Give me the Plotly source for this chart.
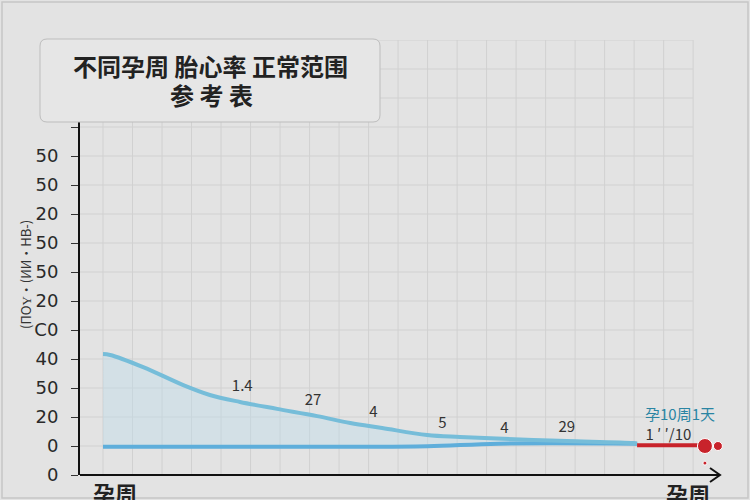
import plotly.graph_objects as go

# data (x = gestational week, y = tick index)
weeks_upper = [0, 0.12, 0.68, 1.36, 1.81, 2.32, 2.95, 3.63, 4.19, 4.73, 5.49, 6.05, 7.29, 7.86, 8.98, 9.05]
upper_vals = [4.17, 4.14, 3.72, 3.10, 2.76, 2.52, 2.28, 2.03, 1.79, 1.62, 1.38, 1.31, 1.21, 1.17, 1.10, 1.08]
weeks_lower = [0, 4.0, 5.5, 6.7, 9.05]
lower_vals = [0.97, 0.97, 0.99, 1.08, 1.08]
red_weeks = [9.05, 10.2]
red_vals = [1.03, 1.03]
dot_weeks = [10.2, 10.42, 10.2]
dot_vals = [1.0, 1.0, 0.41]

label_weeks = [2.36, 3.56, 4.58, 5.75, 6.8, 7.86, 9.58]
label_vals = [3.03, 2.55, 2.14, 1.76, 1.59, 1.62, 1.33]
label_text = ["1.4", "27", "4", "5", "4", "29", "1 ′ ′/10"]

tick_vals = list(range(16))
tick_text = ["0", "0", "20", "50", "40", "C0", "20", "50", "50", "20", "50", "50", "", "", "", ""]
grid_weeks = [w / 2 for w in range(0, 21)]

W, H = 750, 500
L, R, T, B = 80, 25, 40, 25
PW, PH = W - L - R, H - T - B
BG = "#e3e3e3"
GRID = "#d1d1d1"


def px(x):
    return (x - L) / PW


def py(y):
    return (H - B - y) / PH


FONT = "Noto Sans CJK SC"

fig = go.Figure()

fig.add_trace(go.Scatter(x=weeks_lower, y=lower_vals, mode="lines",
                         line=dict(color="#5eaedb", width=4, shape="spline"),
                         hoverinfo="skip"))
fig.add_trace(go.Scatter(x=weeks_upper, y=upper_vals, mode="lines",
                         line=dict(color="#76bdd9", width=4, shape="spline"),
                         fill="tonexty", fillcolor="rgba(190,220,232,0.45)",
                         hoverinfo="skip"))
fig.add_trace(go.Scatter(x=red_weeks, y=red_vals, mode="lines",
                         line=dict(color="#c8232b", width=4),
                         hoverinfo="skip"))
fig.add_trace(go.Scatter(x=dot_weeks, y=dot_vals, mode="markers",
                         marker=dict(color="#c8232b", size=[15, 9, 4], opacity=1),
                         cliponaxis=False, hoverinfo="skip"))
fig.add_trace(go.Scatter(x=label_weeks, y=label_vals, mode="text", text=label_text,
                         textfont=dict(family=FONT, size=15, color="#333333"),
                         cliponaxis=False, hoverinfo="skip"))

fig.add_annotation(x=9.78, y=2.12, text="孕10周1天", showarrow=False,
                   font=dict(family=FONT, size=15, color="#2a85a3"))


def rounded(x0, y0, x1, y1, r):
    # pixel box -> paper path with rounded corners
    pts = [
        f"M {px(x0 + r)},{py(y0)}",
        f"L {px(x1 - r)},{py(y0)}",
        f"Q {px(x1)},{py(y0)} {px(x1)},{py(y0 + r)}",
        f"L {px(x1)},{py(y1 - r)}",
        f"Q {px(x1)},{py(y1)} {px(x1 - r)},{py(y1)}",
        f"L {px(x0 + r)},{py(y1)}",
        f"Q {px(x0)},{py(y1)} {px(x0)},{py(y1 - r)}",
        f"L {px(x0)},{py(y0 + r)}",
        f"Q {px(x0)},{py(y0)} {px(x0 + r)},{py(y0)}",
        "Z",
    ]
    return " ".join(pts)


shapes = [
    # outer frame
    dict(type="rect", xref="paper", yref="paper", x0=px(2), x1=px(748), y0=py(498), y1=py(2),
         line=dict(color="#c6c6c6", width=1.5), layer="below"),
]
# grid that stops at the last column (x = 10 weeks)
for v in tick_vals[1:]:
    shapes.append(dict(type="line", xref="paper", yref="y", x0=0, x1=px(693), y0=v, y1=v,
                       line=dict(color=GRID, width=1), layer="below"))
for w in grid_weeks:
    shapes.append(dict(type="line", xref="x", yref="paper", x0=w, x1=w, y0=0, y1=1,
                       line=dict(color=GRID, width=1), layer="below"))
shapes += [
    # x axis with arrow
    dict(type="line", xref="paper", yref="paper", x0=0, x1=px(720), y0=0, y1=0,
         line=dict(color="#111111", width=2)),
    dict(type="path", xref="paper", yref="paper",
         path=f"M {px(710)},{py(468)} L {px(720)},{py(475)} L {px(710)},{py(482)}",
         line=dict(color="#111111", width=2)),
    # title box
    dict(type="path", xref="paper", yref="paper", path=rounded(40, 39, 380, 122, 7),
         fillcolor="#e6e6e6", line=dict(color="#bdbdbd", width=1), layer="above"),
]

annotations = [
    dict(xref="paper", yref="paper", x=px(210), y=py(66), text="<b>不同孕周 胎心率 正常范围</b>",
         xanchor="center", yanchor="middle",
         showarrow=False, font=dict(family=FONT, size=24, color="#222222")),
    dict(xref="paper", yref="paper", x=px(211), y=py(95), text="<b>参 考 表</b>",
         xanchor="center", yanchor="middle",
         showarrow=False, font=dict(family=FONT, size=24, color="#222222")),
    dict(xref="paper", yref="paper", x=px(25), y=py(275), text="(ПОҮ·(ИИ·НВ-)",
         xanchor="center", yanchor="middle",
         textangle=-90, showarrow=False, font=dict(family=FONT, size=13, color="#333333")),
    dict(xref="paper", yref="paper", x=px(115), y=py(492), text="<b>孕周</b>",
         xanchor="center", yanchor="middle",
         showarrow=False, font=dict(family=FONT, size=22, color="#222222")),
    dict(xref="paper", yref="paper", x=px(688), y=py(493), text="<b>孕周</b>",
         xanchor="center", yanchor="middle",
         showarrow=False, font=dict(family=FONT, size=22, color="#222222")),
]

fig.update_layout(
    width=W, height=H,
    margin=dict(l=L, r=R, t=T, b=B),
    paper_bgcolor=BG,
    plot_bgcolor=BG,
    showlegend=False,
    shapes=shapes,
    annotations=fig.layout.annotations + tuple(annotations),
    xaxis=dict(range=[-0.39, 10.54], showticklabels=False, showgrid=False,
               zeroline=False, showline=False, ticks=""),
    yaxis=dict(range=[0, 15], tickmode="array", tickvals=tick_vals, ticktext=tick_text,
               showgrid=False, zeroline=False,
               showline=True, linecolor="#111111", linewidth=2,
               ticks="outside", ticklen=7, tickcolor="#333333", ticklabelstandoff=9,
               tickfont=dict(family="DejaVu Sans", size=18, color="#2a2a2a")),
)

fig.write_html("out.html", config={"displayModeBar": False},
               post_script="document.body.style.margin='0';")
